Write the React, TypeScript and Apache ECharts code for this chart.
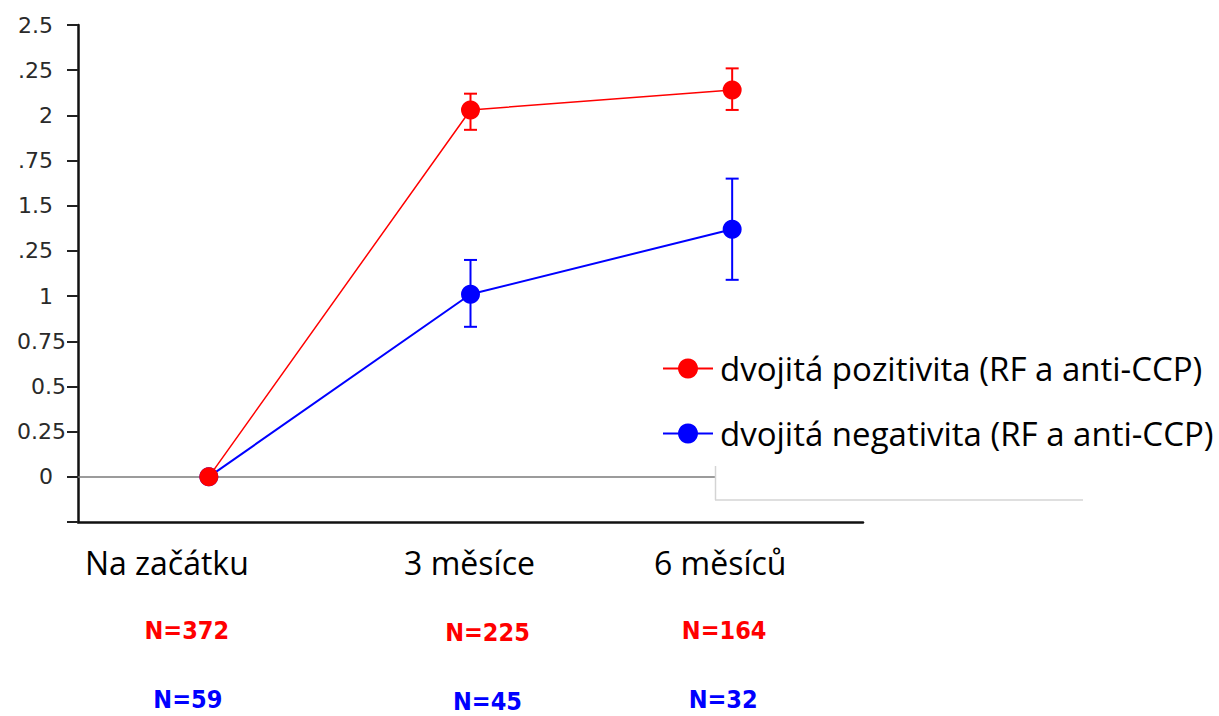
import React, { useEffect, useRef } from "react";
import * as echarts from "echarts";

const categories = ["Na začátku", "3 měsíce", "6 měsíců"];
const seriesNames = ["dvojitá pozitivita (RF a anti-CCP)", "dvojitá negativita (RF a anti-CCP)"];
const posValues = [0, 2.03, 2.14];
const posLow = [0, 1.92, 2.03];
const posHigh = [0, 2.12, 2.26];
const negValues = [0, 1.01, 1.37];
const negLow = [0, 0.83, 1.09];
const negHigh = [0, 1.2, 1.65];
const posN = ["N=372", "N=225", "N=164"];
const negN = ["N=59", "N=45", "N=32"];
const yTickLabels = ["0", "0.25", "0.5", "0.75", "1", ".25", "1.5", ".75", "2", ".25", "2.5"];
const yShifted = ["0.25", "0.5", "0.75"];

const RED = "#ff0000";
const BLUE = "#0000ff";
const CAL = "'Open Sans', 'Noto Sans', sans-serif";
const TICKFONT = "'DejaVu Sans', sans-serif";

function errorSeries(low: number[], high: number[], color: string, z: number) {
  return {
    type: "custom",
    z,
    silent: true,
    data: low.map((l, i) => [i, l, high[i]]),
    renderItem: (params: any, api: any) => {
      const i = api.value(0);
      const lo = api.coord([i, api.value(1)]);
      const hi = api.coord([i, api.value(2)]);
      const w = 6.5;
      const style = { stroke: color, lineWidth: 2 };
      return {
        type: "group",
        children: [
          { type: "line", shape: { x1: lo[0], y1: lo[1], x2: hi[0], y2: hi[1] }, style },
          { type: "line", shape: { x1: hi[0] - w, y1: hi[1], x2: hi[0] + w, y2: hi[1] }, style },
          { type: "line", shape: { x1: lo[0] - w, y1: lo[1], x2: lo[0] + w, y2: lo[1] }, style },
        ],
      };
    },
  };
}

export default function App() {
  const ref = useRef<HTMLDivElement>(null);
  useEffect(() => {
    document.body.style.margin = "0";
    const chart = echarts.init(ref.current!, null, { renderer: "svg" });
    const option: any = {
      animation: false,
      backgroundColor: "#ffffff",
      grid: { left: 78, right: 356, top: 25, bottom: 194 },
      legend: {
        orient: "vertical",
        left: 657,
        top: 346,
        itemWidth: 50,
        itemHeight: 25,
        itemGap: 30,
        selectedMode: false,
        data: seriesNames,
        textStyle: { fontFamily: CAL, fontSize: 33, color: "#000", lineHeight: 35, padding: [0, 0, 0, 2] },
      },
      xAxis: {
        type: "category",
        data: categories,
        boundaryGap: true,
        axisLine: { onZero: false, lineStyle: { color: "#111", width: 2.5 } },
        axisTick: { alignWithLabel: true, length: 6, lineStyle: { color: "#333", width: 1.5 } },
        axisLabel: {
          interval: 0,
          margin: 24,
          fontFamily: CAL,
          fontSize: 32,
          color: "#000",
          formatter: (v: string, i: number) => `{c${i}|${v}}`,
          rich: {
            c0: { fontFamily: CAL, fontSize: 32, color: "#000", padding: [0, 84, 0, 0] },
            c1: { fontFamily: CAL, fontSize: 32, color: "#000", padding: [0, 2, 0, 0] },
            c2: { fontFamily: CAL, fontSize: 32, color: "#000", padding: [0, 24, 0, 0] },
          },
        },
        splitLine: { show: false },
      },
      yAxis: {
        type: "value",
        min: -0.25,
        max: 2.5,
        interval: 0.25,
        axisLine: { show: true, lineStyle: { color: "#111", width: 2.5 } },
        axisTick: { show: true, length: 11, lineStyle: { color: "#222", width: 2 } },
        splitLine: { show: false },
        axisLabel: {
          margin: 12,
          formatter: (v: number) => {
            const idx = Math.round(v / 0.25);
            if (idx < 0) return "";
            const t = yTickLabels[idx];
            return yShifted.indexOf(t) >= 0 ? `{s|${t}}` : `{n|${t}}`;
          },
          rich: {
            n: { fontFamily: TICKFONT, fontSize: 22, color: "#2a2a2a", padding: [0, 13, 0, 0] },
            s: { fontFamily: TICKFONT, fontSize: 22, color: "#2a2a2a" },
          },
        },
      },
      series: [
        {
          name: seriesNames[0],
          type: "line",
          z: 4,
          data: posValues,
          symbol: "circle",
          symbolSize: 19,
          itemStyle: { color: RED },
          lineStyle: { color: RED, width: 1.5 },
        },
        {
          name: seriesNames[1],
          type: "line",
          z: 3,
          data: negValues,
          symbol: "circle",
          symbolSize: 19,
          itemStyle: { color: BLUE },
          lineStyle: { color: BLUE, width: 2 },
          markLine: {
            silent: true,
            symbol: "none",
            label: { show: false },
            lineStyle: { color: "#7a7a7a", width: 1.5, type: "solid" },
            data: [{ yAxis: 0 }],
            z: 1,
          },
        },
        errorSeries(posLow, posHigh, RED, 4),
        errorSeries(negLow, negHigh, BLUE, 3),
      ],
    };
    chart.setOption(option);

    const graphics: any[] = [
      { type: "rect", z: 50, shape: { x: 716, y: 463, width: 368, height: 37 }, style: { fill: "#ffffff" } },
      { type: "line", z: 51, shape: { x1: 715.5, y1: 466, x2: 715.5, y2: 500 }, style: { stroke: "#d4d4d4", lineWidth: 1.5 } },
      { type: "line", z: 51, shape: { x1: 715, y1: 500, x2: 1083, y2: 500 }, style: { stroke: "#d4d4d4", lineWidth: 1.5 } },
    ];
    const dxPos = [-22, 17, -8];
    const dxNeg = [-21, 17, -9];
    const yPos = [630, 632, 630];
    const yNeg = [699, 701, 699];
    const NFONT = "bold 25px 'DejaVu Sans Condensed', 'Liberation Sans Narrow', sans-serif";
    categories.forEach((c, i) => {
      const x = chart.convertToPixel({ xAxisIndex: 0 }, c) as number;
      graphics.push({
        type: "text",
        z: 60,
        x: x + dxPos[i],
        y: yPos[i],
        style: { text: posN[i], fill: RED, font: NFONT, textAlign: "center", textVerticalAlign: "middle" },
      });
      graphics.push({
        type: "text",
        z: 60,
        x: x + dxNeg[i],
        y: yNeg[i],
        style: { text: negN[i], fill: BLUE, font: NFONT, textAlign: "center", textVerticalAlign: "middle" },
      });
    });
    chart.setOption({ graphic: graphics });

    return () => chart.dispose();
  }, []);
  return <div ref={ref} style={{ width: 1219, height: 716 }} />;
}
